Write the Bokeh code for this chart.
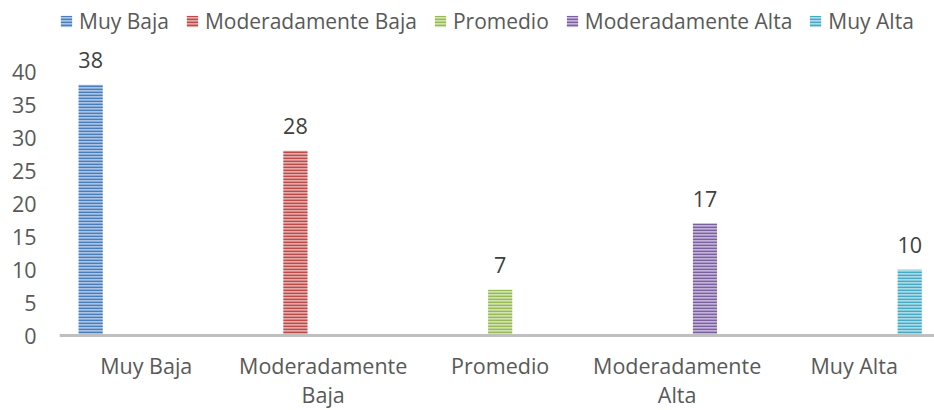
from bokeh.plotting import figure
from bokeh.models import ColumnDataSource, LabelSet, FixedTicker, Range1d
from bokeh.core.properties import value
from bokeh.embed import file_html
from bokeh.resources import INLINE

# ---- data ----
categories = ["Muy Baja", "Moderadamente Baja", "Promedio", "Moderadamente Alta", "Muy Alta"]
tick_labels = ["Muy Baja", "Moderadamente\nBaja", "Promedio", "Moderadamente\nAlta", "Muy Alta"]
series = ["Muy Baja", "Moderadamente Baja", "Promedio", "Moderadamente Alta", "Muy Alta"]
values = [38, 28, 7, 17, 10]
y_ticks = [0, 5, 10, 15, 20, 25, 30, 35, 40]

# ---- styles ----
dark = ["#4A7EBB", "#BE4B48", "#98B954", "#7D60A0", "#46AAC5"]
light = ["#A9C3E6", "#E4A9A8", "#D0E2B2", "#C2B3D8", "#A9DAE8"]
FONT = "Open Sans"
FS = "21.5px"
n_series = len(series)
step = 0.157
bar_w = 0.136

xs = [i + (i - (n_series - 1) / 2) * step for i in range(n_series)]
src = ColumnDataSource(dict(
    x=xs, top=values, fill=light, hatch=dark, label=series,
    text=[str(v) for v in values],
))

W, H = 934, 410
p = figure(width=W, height=H, output_backend="svg", toolbar_location=None,
           x_range=Range1d(-0.49, 4.454), y_range=Range1d(-11.27, 50.74),
           min_border_left=59, min_border_right=0, min_border_top=0,
           min_border_bottom=0)

p.vbar(x="x", top="top", width=bar_w, source=src, fill_color="fill",
       line_color=None, hatch_pattern="horizontal_line", hatch_color="hatch",
       hatch_scale=3, hatch_weight=1.7, legend_field="label")

labels = LabelSet(x="x", y="top", text="text", source=src, text_align="center",
                  text_baseline="alphabetic", y_offset=17,
                  text_font=value(FONT), text_font_size=value(FS),
                  text_color="#404040")
p.add_layout(labels)

p.xgrid.visible = False
p.ygrid.visible = False
p.outline_line_color = None
p.background_fill_color = "white"
p.border_fill_color = "white"

ya = p.yaxis[0]
ya.ticker = FixedTicker(ticks=y_ticks)
ya.axis_line_color = None
ya.major_tick_line_color = None
ya.minor_tick_line_color = None
ya.major_tick_out = 0
ya.minor_tick_out = 0
ya.major_label_standoff = 23
ya.major_label_text_font = FONT
ya.major_label_text_font_size = FS
ya.major_label_text_color = "#595959"

xa = p.xaxis[0]
xa.fixed_location = 0
xa.ticker = FixedTicker(ticks=list(range(len(categories))))
xa.major_label_overrides = {i: t for i, t in enumerate(tick_labels)}
xa.axis_line_color = "#BFBFBF"
xa.axis_line_width = 3
xa.major_tick_line_color = None
xa.minor_tick_line_color = None
xa.major_tick_out = 0
xa.minor_tick_out = 0
xa.major_label_standoff = 15
xa.major_label_text_font = FONT
xa.major_label_text_font_size = FS
xa.major_label_text_color = "#595959"
xa.major_label_text_line_height = 1.0

lg = p.legend[0]
lg.location = (0, 375)
lg.orientation = "horizontal"
lg.glyph_width = 14
lg.glyph_height = 14
lg.label_standoff = 6
lg.spacing = 16
lg.padding = 0
lg.margin = 0
lg.border_line_color = None
lg.background_fill_alpha = 0
lg.label_text_font = FONT
lg.label_text_font_size = "21px"
lg.label_text_color = "#595959"

open("out.html", "w").write(file_html(p, INLINE))
